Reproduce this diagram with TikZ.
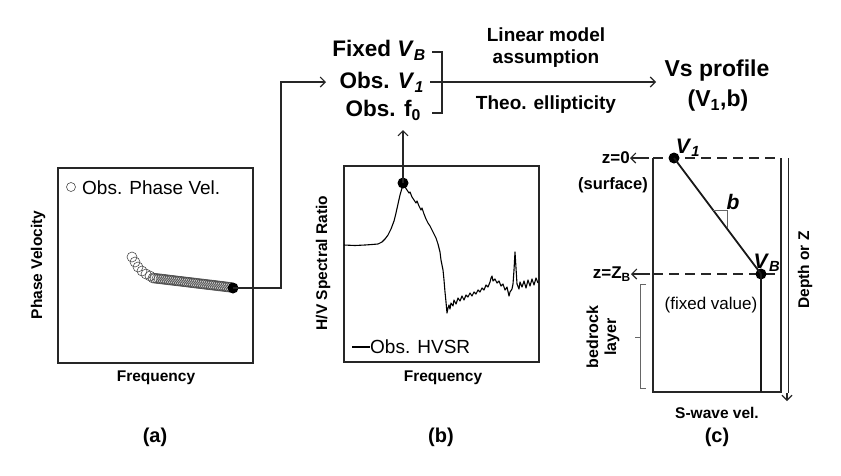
\documentclass[tikz,border=0pt]{standalone}
\usepackage{fontspec}
\setmainfont{Liberation Sans}
\usetikzlibrary{arrows.meta}
\tikzset{
  frame/.style={draw=black!85, line width=1.2pt},
  lbl/.style={font=\fontsize{15.5}{17}\selectfont\bfseries, inner sep=0pt},
  zlbl/.style={font=\fontsize{17}{19}\selectfont\bfseries, inner sep=0pt},
  big/.style={font=\fontsize{22.5}{25}\selectfont\bfseries, inner sep=0pt},
  vlbl/.style={font=\fontsize{21}{24}\selectfont\bfseries, inner sep=0pt},
  vsbig/.style={font=\fontsize{23}{26}\selectfont\bfseries, inner sep=0pt},
  mid/.style={font=\fontsize{19}{22}\selectfont\bfseries, inner sep=0pt},
  reg/.style={font=\fontsize{19}{21}\selectfont, inner sep=0pt},
  regs/.style={font=\fontsize{17}{19}\selectfont, inner sep=0pt},
  panelcap/.style={font=\fontsize{20}{22}\selectfont\bfseries, inner sep=0pt},
  blackdot/.style={circle, fill=black, inner sep=0pt, minimum size=11pt},
  conn/.style={draw=black!85, line width=1.1pt},
  barb/.style={-{Straight Barb[length=5pt,width=10pt,line width=1.1pt]}},
  circ/.style={draw=black!70, line width=0.6pt},
  dashln/.style={draw=black!85, line width=1.2pt, dash pattern=on 10pt off 6pt},
  thinln/.style={draw=black!60, line width=0.6pt},
  thick2/.style={draw=black!90, line width=1.8pt},
}
\begin{document}
\begin{tikzpicture}[x=1pt,y=-1pt]
\useasboundingbox (0,0) rectangle (841,475);
\fill[white] (0,0) rectangle (841,475);

% ---------------- Panel (a)
\draw[frame] (58,168) rectangle (253,363);
\draw[circ] (71,187) circle (4.5);
\node[reg, anchor=west] (legA) at (82,188) {Obs. Phase Vel.};
\node[lbl, rotate=90] (ylabA) at (38,265) {Phase Velocity};
\node[lbl] (xlabA) at (156,378) {Frequency};
\node[panelcap] (capA) at (155,437) {(a)};
\foreach \p in {(132,257),(135,262),(138,267),(142,271),(146,274),(150,276)}
  \draw[circ] \p circle (5);
\foreach \x in {153,155,...,231}
  \draw[circ] (\x,{278+0.12*(\x-153)}) circle (5);
\node[blackdot] (dotA) at (233,288) {};
\coordinate (bendA) at (281,82);
\coordinate (tipA) at (326,82);
\draw[conn, barb] (dotA.center) -| (bendA) -- (tipA);

% ---------------- Panel (b)
\draw[frame] (344,166) rectangle (539,362);
\draw[black, line width=1.1pt, line join=round]
 (344,245) -- (355,245.5) -- (365,245) -- (372,244.5) -- (378,244) -- (382,242) -- (385,239) -- (388,235) -- (391,229) -- (394,221) -- (396,213) -- (398,204) -- (400,195) -- (402,188) -- (403.5,185) -- (405,187) -- (407,190) -- (409,193) -- (410,192) -- (412,197) -- (414,200) -- (416,203) -- (417,201) -- (419,206) -- (421,210) -- (422,208) -- (424,214) -- (426,219) -- (428,223) -- (430,226) -- (432,230) -- (434,234) -- (436,238) -- (438,244) -- (440,252) -- (441,260) -- (443,270) -- (444,280) -- (445,292) -- (446,302) -- (447,313) -- (448,308) -- (449,305) -- (450,309) -- (451,303) -- (453,306) -- (454,300) -- (456,304) -- (458,298) -- (460,301) -- (462,296) -- (464,300) -- (466,295) -- (468,297) -- (470,293) -- (472,296) -- (474,292) -- (476,294) -- (478,290) -- (480,292) -- (482,288) -- (484,290) -- (486,285) -- (488,287) -- (490,282) -- (491,278) -- (492,276) -- (493,281) -- (495,279) -- (497,283) -- (499,281) -- (501,286) -- (503,284) -- (505,290) -- (507,287) -- (509,296) -- (510,292) -- (512,289) -- (513,284) -- (514,270) -- (515,252) -- (516,268) -- (517,284) -- (519,289) -- (520,282) -- (522,287) -- (524,281) -- (526,288) -- (528,280) -- (530,286) -- (532,279) -- (534,285) -- (536,278) -- (538,283);
\draw[black, line width=1.1pt] (352,347) -- (370,347);
\node[reg, anchor=west] (legB) at (370,347) {Obs. HVSR};
\node[lbl, rotate=90] (ylabB) at (323,263) {H/V Spectral Ratio};
\node[lbl] (xlabB) at (443,378) {Frequency};
\node[panelcap] (capB) at (441,437) {(b)};
\node[blackdot] (dotB) at (403,183) {};
\coordinate (tipB) at (403,130);
\draw[conn, barb] (dotB.center) -- (tipB);

% ---------------- Top row
\node[big, anchor=east] (fixedvb) at (426,50) {Fixed \textit{V}\textsubscript{\textit{B}}};
\node[big, anchor=east] (obsv1) at (424,82) {Obs. \textit{V}\textsubscript{\textit{1}}};
\node[big, anchor=east] (obsf0) at (421,110) {Obs. f\textsubscript{0}};
\draw[conn] (432,52) -- (442,52) -- (442,113) -- (432,113);
\coordinate (brkmid) at (430,82);
\coordinate (tipTop) at (656,82);
\draw[conn, barb] (brkmid) -- (tipTop);
\node[mid, align=center] (linmod) at (546,48) {Linear model\\assumption};
\node[mid] (theo) at (546,105) {Theo. ellipticity};
\node[vsbig] (vsprof) at (717,71) {Vs profile};
\node[vsbig] (vsparam) at (718,101) {(V\textsubscript{1},b)};

% ---------------- Panel (c)
\draw[frame] (653,158) -- (653,392) -- (781,392) -- (781,158);
\draw[dashln] (653,158) -- (781,158);
\draw[dashln] (653,274) -- (781,274);
\node[blackdot] (v1dot) at (674,158) {};
\node[blackdot] (vbdot) at (761,274) {};
\coordinate (vbbot) at (761,392);
\draw[thick2] (v1dot.center) -- (vbdot.center);
\draw[thick2] (vbdot.center) -- (vbbot);
\draw[thinln] (713,210) -- (727,210) -- (727,228);
\node[vlbl] (blab) at (733,202) {\textit{b}};
\node[vlbl] (v1lab) at (688,148) {\textit{V}\textsubscript{\textit{1}}};
\node[vlbl] (vblab) at (767,263) {\textit{V}\textsubscript{\textit{B}}};
\node[zlbl, anchor=east] (z0) at (630,158) {z=0};
\coordinate (z0tail) at (649,158);
\draw[conn, barb] (z0tail) -- (z0.east);
\node[zlbl, anchor=east] (zb) at (631,274) {z=Z\textsubscript{B}};
\coordinate (zbtail) at (650,274);
\draw[conn, barb] (zbtail) -- (zb.east);
\node[font=\fontsize{16.5}{18}\selectfont\bfseries, inner sep=0pt] (surf) at (613,185) {(surface)};
\node[regs] (fixv) at (711,305) {(fixed value)};
\draw[thinln] (646,284) -- (640,284) -- (640,388) -- (646,388);
\draw[thinln] (640,337) -- (635,337);
\node[font=\fontsize{16}{18}\selectfont\bfseries, inner sep=0pt, rotate=90, align=center] (bedrock) at (603,337) {bedrock\\layer};
\coordinate (dtop) at (787,158);
\coordinate (dbot) at (787,393);
\coordinate (dtip) at (787,401);
\draw[draw=black!85, line width=0.7pt, double=white, double distance=1.6pt] (dtop) -- (dbot);
\draw[conn, barb] (dbot) -- (dtip);
\node[lbl, rotate=90] (depth) at (805,270) {Depth or Z};
\node[lbl] (swave) at (717,413) {S-wave vel.};
\node[panelcap] (capC) at (717,437) {(c)};
\end{tikzpicture}
\end{document}
